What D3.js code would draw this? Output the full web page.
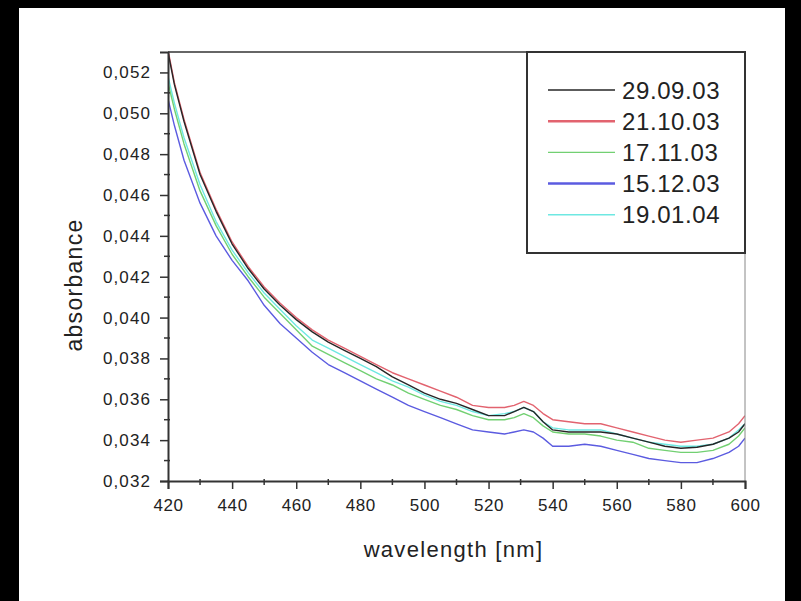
<!DOCTYPE html>
<html>
<head>
<meta charset="utf-8">
<script src="https://cdn.jsdelivr.net/npm/d3@7"></script>
<style>
  html, body { margin: 0; padding: 0; background: #000; }
  svg { display: block; }
  text { font-family: "Liberation Sans", Arial, Helvetica, sans-serif; fill: #222; }
</style>
</head>
<body>
<svg id="chart" width="801" height="601"></svg>
<script>
// ---- data ----
const wavelengths = [420, 422, 425, 430, 435, 440, 445, 450, 455, 460, 465, 470, 475, 480, 485, 490, 495, 500, 505, 510, 515, 520, 525, 528, 531, 534, 537, 540, 545, 550, 555, 560, 565, 570, 575, 580, 585, 590, 595, 598, 600];

const s290903 = [0.0530, 0.0514, 0.0496, 0.0470, 0.0452, 0.0436, 0.0424, 0.0414, 0.0406, 0.0399, 0.0393, 0.0388, 0.0384, 0.0380, 0.0376, 0.0371, 0.0367, 0.0363, 0.0360, 0.0358, 0.0355, 0.0352, 0.0352, 0.0354, 0.0356, 0.0354, 0.0349, 0.0345, 0.0344, 0.0344, 0.0344, 0.0343, 0.0341, 0.0339, 0.0337, 0.0336, 0.03365, 0.0338, 0.0341, 0.0344, 0.0348];
const s211003 = [0.0531, 0.0515, 0.0497, 0.0471, 0.0453, 0.0437, 0.0425, 0.0415, 0.0407, 0.0400, 0.0394, 0.0389, 0.0385, 0.0381, 0.0377, 0.0373, 0.0370, 0.0367, 0.0364, 0.0361, 0.0357, 0.0356, 0.0356, 0.0357, 0.0359, 0.0357, 0.0353, 0.0350, 0.0349, 0.0348, 0.0348, 0.0346, 0.0344, 0.0342, 0.0340, 0.0339, 0.0340, 0.0341, 0.0344, 0.0348, 0.0352];
const s171103 = [0.0515, 0.0502, 0.0485, 0.0462, 0.0445, 0.0431, 0.0420, 0.0410, 0.0402, 0.0394, 0.0386, 0.0382, 0.0378, 0.0374, 0.0370, 0.0367, 0.0363, 0.0360, 0.0357, 0.0355, 0.0352, 0.0350, 0.0350, 0.0351, 0.0353, 0.0351, 0.0347, 0.0344, 0.0343, 0.0343, 0.0342, 0.0340, 0.0339, 0.0336, 0.0335, 0.0334, 0.0334, 0.0335, 0.0338, 0.0342, 0.0346];
const s151203 = [0.0507, 0.0494, 0.0477, 0.0456, 0.0440, 0.0428, 0.0418, 0.0406, 0.0397, 0.0390, 0.0383, 0.0377, 0.0373, 0.0369, 0.0365, 0.0361, 0.0357, 0.0354, 0.0351, 0.0348, 0.0345, 0.0344, 0.0343, 0.0344, 0.0345, 0.0344, 0.0341, 0.0337, 0.0337, 0.0338, 0.0337, 0.0335, 0.0333, 0.0331, 0.0330, 0.0329, 0.0329, 0.0331, 0.0334, 0.0337, 0.0341];
const s190104 = [0.0518, 0.0505, 0.0488, 0.0465, 0.0447, 0.0433, 0.0422, 0.0412, 0.0404, 0.0396, 0.0389, 0.0385, 0.0381, 0.0377, 0.0373, 0.0369, 0.0366, 0.0362, 0.0359, 0.0357, 0.0354, 0.0352, 0.0353, 0.0354, 0.0356, 0.0354, 0.0349, 0.0346, 0.0345, 0.0345, 0.0345, 0.0343, 0.0341, 0.0339, 0.0338, 0.0337, 0.0337, 0.0338, 0.0341, 0.0345, 0.0348];

const seriesNames = ["29.09.03", "21.10.03", "17.11.03", "15.12.03", "19.01.04"];
const seriesValues = [s290903, s211003, s171103, s151203, s190104];
const seriesColors = ["#262626", "#e2636f", "#72d072", "#5b5be0", "#6ee8e2"];

const xTicks = [420, 440, 460, 480, 500, 520, 540, 560, 580, 600];
const yTicks = [0.032, 0.034, 0.036, 0.038, 0.040, 0.042, 0.044, 0.046, 0.048, 0.050, 0.052];
const xLabel = "wavelength [nm]";
const yLabel = "absorbance";

// ---- layout ----
const svg = d3.select("#chart");
svg.append("rect").attr("x", 0).attr("y", 0).attr("width", 801).attr("height", 601).attr("fill", "#000");
svg.append("rect").attr("x", 19).attr("y", 8).attr("width", 766).attr("height", 593).attr("fill", "#fff");

const L = 168, R = 745, T = 52, B = 481;
const x = d3.scaleLinear().domain([420, 600]).range([L, R]);
const y = d3.scaleLinear().domain([0.032, 0.053]).range([B, T]);

svg.append("clipPath").attr("id", "clip")
  .append("rect").attr("x", L).attr("y", T).attr("width", R - L).attr("height", B - T);

// series
const line = d3.line().x((d, i) => x(wavelengths[i])).y(d => y(d));
const plot = svg.append("g").attr("clip-path", "url(#clip)");
const drawOrder = [4, 2, 3, 1, 0];
drawOrder.forEach(k => {
  plot.append("path")
    .datum(seriesValues[k])
    .attr("d", line)
    .attr("fill", "none")
    .attr("stroke", seriesColors[k])
    .attr("stroke-width", 1.4)
    .attr("stroke-linejoin", "round");
});

// frame top & right
svg.append("line").attr("x1", L).attr("x2", R).attr("y1", T).attr("y2", T)
  .attr("stroke", "#666").attr("stroke-width", 2);
svg.append("line").attr("x1", R).attr("x2", R).attr("y1", T).attr("y2", B)
  .attr("stroke", "#888").attr("stroke-width", 1);

// x axis
const xAxis = d3.axisBottom(x).tickValues(xTicks).tickSize(8).tickPadding(10).tickFormat(d3.format("d"));
const gx = svg.append("g").attr("transform", `translate(0,${B})`).call(xAxis);
gx.select(".domain").attr("stroke", "#333").attr("stroke-width", 2);
gx.selectAll(".tick line").attr("stroke", "#333").attr("stroke-width", 1.5);
gx.selectAll(".tick text").attr("font-size", 17).attr("letter-spacing", 0.6)
  .attr("font-family", "Liberation Sans, Arial, sans-serif").attr("fill", "#333");
const xMinor = d3.range(430, 600, 20);
svg.append("g").selectAll("line").data(xMinor).join("line")
  .attr("x1", d => x(d)).attr("x2", d => x(d)).attr("y1", B - 2).attr("y2", B + 4)
  .attr("stroke", "#333").attr("stroke-width", 1.5);

// y axis
const yAxis = d3.axisLeft(y).tickValues(yTicks).tickSize(8).tickPadding(9)
  .tickFormat(d => d3.format(".3f")(d).replace(".", ","));
const gy = svg.append("g").attr("transform", `translate(${L},0)`).call(yAxis);
gy.select(".domain").attr("stroke", "#333").attr("stroke-width", 2);
gy.selectAll(".tick line").attr("stroke", "#333").attr("stroke-width", 1.5);
gy.selectAll(".tick text").attr("font-size", 17).attr("letter-spacing", 1.1)
  .attr("font-family", "Liberation Sans, Arial, sans-serif").attr("fill", "#333");
const yMinor = d3.range(0.033, 0.053, 0.002);
svg.append("g").selectAll("line").data(yMinor).join("line")
  .attr("x1", L - 4).attr("x2", L + 2).attr("y1", d => y(d)).attr("y2", d => y(d))
  .attr("stroke", "#333").attr("stroke-width", 1.5);

// axis titles
svg.append("text").attr("x", (L + R) / 2 - 3).attr("y", 557)
  .attr("text-anchor", "middle").attr("font-size", 22).attr("letter-spacing", 1.3)
  .attr("fill", "#222").text(xLabel);
svg.append("text").attr("transform", `translate(82,${285}) rotate(-90)`)
  .attr("text-anchor", "middle").attr("font-size", 23).attr("letter-spacing", 1.3)
  .attr("fill", "#222").text(yLabel);

// legend
const lg = svg.append("g");
lg.append("rect").attr("x", 527).attr("y", T).attr("width", R - 527).attr("height", 201)
  .attr("fill", "#fff").attr("stroke", "#333").attr("stroke-width", 2);
seriesNames.forEach((name, i) => {
  const cy = 90 + i * 31.2;
  lg.append("line").attr("x1", 548).attr("x2", 615).attr("y1", cy).attr("y2", cy)
    .attr("stroke", seriesColors[i]).attr("stroke-width", i === 1 || i === 3 ? 2.5 : 1.4);
  lg.append("text").attr("x", 622).attr("y", cy + 8.5)
    .attr("font-size", 24).attr("letter-spacing", 0.6).attr("fill", "#222").text(name);
});
</script>
</body>
</html>
